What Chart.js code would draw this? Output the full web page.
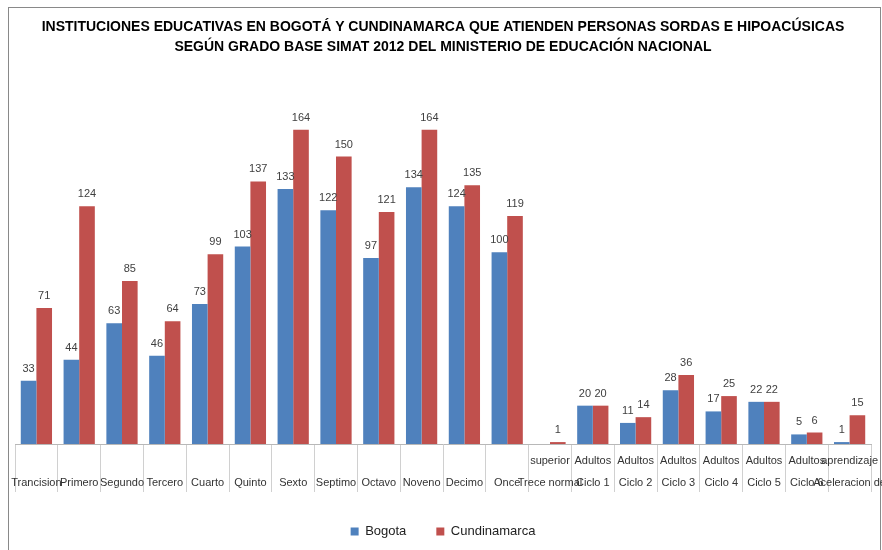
<!DOCTYPE html>
<html>
<head>
<meta charset="utf-8">
<script src="https://cdn.jsdelivr.net/npm/chart.js@4/dist/chart.umd.min.js"></script>
<style>
body { margin:0; background:#fff; }
#wrap { position:relative; width:882px; height:550px; }
</style>
</head>
<body>
<div id="wrap"><canvas id="myChart" width="882" height="550"></canvas></div>
<script>
// categorias (wrapped like the excel axis, second part shown on top)
var categorias = [
    ['', 'Trancision'], ['', 'Primero'], ['', 'Segundo'], ['', 'Tercero'],
    ['', 'Cuarto'], ['', 'Quinto'], ['', 'Sexto'], ['', 'Septimo'],
    ['', 'Octavo'], ['', 'Noveno'], ['', 'Decimo'], ['', 'Once'],
    ['superior', 'Trece normal'],
    ['Adultos', 'Ciclo 1'], ['Adultos', 'Ciclo 2'], ['Adultos', 'Ciclo 3'],
    ['Adultos', 'Ciclo 4'], ['Adultos', 'Ciclo 5'], ['Adultos', 'Ciclo 6'],
    ['aprendizaje', 'Aceleracion de']
];
var bogota = [33, 44, 63, 46, 73, 103, 133, 122, 97, 134, 124, 100, null, 20, 11, 28, 17, 22, 5, 1];
var cundinamarca = [71, 124, 85, 64, 99, 137, 164, 150, 121, 164, 135, 119, 1, 20, 14, 36, 25, 22, 6, 15];
var titulo = [
    'INSTITUCIONES EDUCATIVAS EN BOGOTÁ Y CUNDINAMARCA QUE ATIENDEN PERSONAS SORDAS E HIPOACÚSICAS',
    'SEGÚN GRADO BASE SIMAT 2012 DEL MINISTERIO DE EDUCACIÓN NACIONAL'
];

ready = (callback) => {
    if (document.readyState != "loading") callback();
    else document.addEventListener("DOMContentLoaded", callback);
}
ready(() => {

// marco gris alrededor del grafico
var marco = {
    id: 'marco',
    beforeDraw: function(chart) {
        var ctx = chart.ctx;
        ctx.save();
        ctx.fillStyle = '#fff';
        ctx.fillRect(0, 0, chart.width, chart.height);
        ctx.strokeStyle = '#898989';
        ctx.lineWidth = 1;
        ctx.strokeRect(8.5, 7.5, 872, 600);
        ctx.restore();
    }
}

// valores encima de cada barra
var etiquetas = {
    id: 'etiquetas',
    afterDatasetsDraw: function(chart) {
        var ctx = chart.ctx;
        ctx.save();
        ctx.font = '11px "Liberation Sans", Arial, sans-serif';
        ctx.fillStyle = '#404040';
        ctx.textAlign = 'center';
        ctx.textBaseline = 'middle';
        chart.data.datasets.forEach((dataset, i) => {
            var meta = chart.getDatasetMeta(i);
            meta.data.forEach((bar, j) => {
                var v = dataset.data[j];
                if (v === null || v === undefined) return;
                ctx.fillText(v, bar.x, bar.y - 12);
            });
        });
        ctx.restore();
    }
}

var ctx = document.getElementById('myChart').getContext('2d');
var chart = new Chart(ctx, {
    type: 'bar',
    data: {
        labels: categorias,
        datasets: [{
            label: 'Bogota',
            backgroundColor: '#4F81BD',
            data: bogota
        }, {
            label: 'Cundinamarca',
            backgroundColor: '#C0504D',
            data: cundinamarca
        }]
    },
    options: {
        responsive: false,
        animation: false,
        layout: { padding: { left: 15, right: 11, top: 0, bottom: 2 } },
        datasets: { bar: { categoryPercentage: 0.73, barPercentage: 1 } },
        scales: {
            x: {
                offset: true,
                grid: {
                    offset: true,
                    drawOnChartArea: false,
                    drawTicks: true,
                    tickLength: 48,
                    color: '#d0d0d0'
                },
                border: { color: '#b8b8b8' },
                ticks: {
                    autoSkip: false,
                    maxRotation: 0,
                    minRotation: 0,
                    padding: -42,
                    color: '#333',
                    font: { family: '"Liberation Sans", Arial, sans-serif', size: 11, lineHeight: '22px' }
                },
                afterFit: function(scale) { scale.height = 51; }
            },
            y: {
                display: false,
                min: 0,
                max: 180
            }
        },
        plugins: {
            title: {
                display: true,
                text: titulo,
                color: '#000',
                font: { family: '"Liberation Sans", Arial, sans-serif', size: 14, weight: 'bold', lineHeight: '20px' },
                padding: { top: 17, bottom: 42 }
            },
            legend: {
                position: 'bottom',
                labels: {
                    boxWidth: 8,
                    boxHeight: 8,
                    padding: 30,
                    color: '#222',
                    font: { family: '"Liberation Sans", Arial, sans-serif', size: 13 }
                }
            },
            tooltip: { enabled: false }
        }
    },
    plugins: [marco, etiquetas]
})

})
</script>
</body>
</html>
